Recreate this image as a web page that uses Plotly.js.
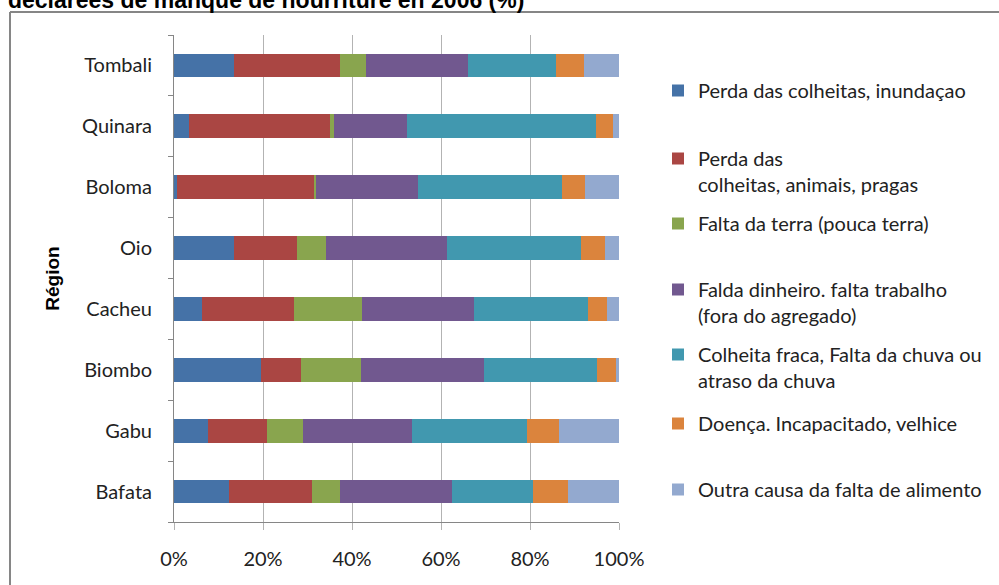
<!DOCTYPE html>
<html>
<head>
<meta charset="utf-8">
<script src="https://cdn.plot.ly/plotly-3.0.1.min.js"></script>
<style>html,body{margin:0;padding:0;background:#fff;overflow:hidden;}#chart{width:999px;height:585px;}</style>
</head>
<body>
<div id="chart"></div>
<script>
// Regions, bottom to top as drawn
var regions = ["Bafata", "Gabu", "Biombo", "Cacheu", "Oio", "Boloma", "Quinara", "Tombali"];

// Share of each declared cause (%), same order as regions
var inundacao = [12.4, 7.6, 19.6, 6.3, 13.4, 0.75, 3.4, 13.4];
var pragas    = [18.6, 13.2, 9.0, 20.7, 14.3, 30.6, 31.7, 24.0];
var terra     = [6.4, 8.2, 13.4, 15.3, 6.5, 0.45, 0.8, 5.8];
var dinheiro  = [25.1, 24.4, 27.6, 25.2, 27.2, 23.1, 16.5, 22.9];
var chuva     = [18.2, 26.0, 25.5, 25.6, 30.1, 32.3, 42.5, 19.7];
var doenca    = [7.8, 7.2, 4.3, 4.3, 5.4, 5.1, 3.7, 6.3];
var outra     = [11.5, 13.4, 0.6, 2.6, 3.1, 7.7, 1.4, 7.9];

var seriesNames = [
  "Perda das colheitas, inundaçao",
  "Perda das<br>colheitas, animais, pragas",
  "Falta da terra (pouca terra)",
  "Falda dinheiro. falta trabalho<br>(fora do agregado)",
  "Colheita fraca, Falta da chuva ou<br>atraso da chuva",
  "Doença. Incapacitado, velhice",
  "Outra causa da falta de alimento"
];
var seriesValues = [inundacao, pragas, terra, dinheiro, chuva, doenca, outra];
var colors = ["#4572A7", "#AA4643", "#89A54E", "#71588F", "#4198AF", "#DB843D", "#93A9CF"];

var FONT = "Lato, 'Open Sans', sans-serif";
var FS = 20;

// geometry helpers (plot area: left 174, top 35, width 445, height 487)
var L = 174, T = 35, W = 445, H = 487;
function px2x(p) { return (p - L) / W; }
function px2y(p) { return (T + H - p) / H; }

var legendTops = [90, 158, 223, 289, 354, 423, 489];

var traces = seriesValues.map(function (vals, i) {
  return {
    type: "bar",
    orientation: "h",
    y: regions,
    x: vals,
    name: seriesNames[i],
    marker: { color: colors[i], line: { width: 0 } },
    legend: i === 0 ? "legend" : "legend" + (i + 1),
    showlegend: true,
    hoverinfo: "x+y+name"
  };
});

var layout = {
  width: 999,
  height: 585,
  showlegend: true,
  margin: { l: L, r: 999 - L - W, t: T, b: 585 - T - H, pad: 0 },
  paper_bgcolor: "#ffffff",
  plot_bgcolor: "#ffffff",
  barmode: "stack",
  bargap: 0.61,
  title: {
    text: "déclarées de manque de nourriture en 2006 (%)",
    font: { family: "'Liberation Sans', Arial, sans-serif", size: 23, color: "#000", weight: "bold" },
    xref: "container", yref: "container",
    x: 0.008, xanchor: "left",
    y: 1.0, yanchor: "middle"
  },
  xaxis: {
    range: [0, 100],
    dtick: 20,
    tick0: 0,
    ticksuffix: "%",
    showgrid: true,
    gridcolor: "#b3b3b3",
    gridwidth: 1,
    showline: true,
    linecolor: "#868686",
    linewidth: 1,
    ticks: "outside",
    ticklen: 7,
    tickcolor: "#b3b3b3",
    ticklabelstandoff: 12,
    zeroline: false,
    tickfont: { family: FONT, size: FS, color: "#222" },
    fixedrange: true
  },
  yaxis: {
    type: "category",
    categoryorder: "array",
    categoryarray: regions,
    tickson: "boundaries",
    ticks: "outside",
    ticklen: 5,
    tickcolor: "#868686",
    showline: true,
    linecolor: "#868686",
    linewidth: 1,
    showgrid: false,
    ticklabelstandoff: 17,
    tickfont: { family: FONT, size: FS, color: "#222" },
    title: {
      text: "Région",
      font: { family: "'Liberation Sans', Arial, sans-serif", size: 19, color: "#000", weight: "bold" },
      standoff: 17
    },
    fixedrange: true
  },
  shapes: [
    { type: "line", xref: "paper", yref: "paper",
      x0: px2x(10), x1: px2x(1200), y0: px2y(12), y1: px2y(12),
      line: { color: "#868686", width: 2 }, layer: "below" },
    { type: "line", xref: "paper", yref: "paper",
      x0: px2x(10), x1: px2x(10), y0: px2y(12), y1: px2y(700),
      line: { color: "#868686", width: 2 }, layer: "below" }
  ]
};

legendTops.forEach(function (py, i) {
  var key = i === 0 ? "legend" : "legend" + (i + 1);
  layout[key] = {
    x: px2x(658), xanchor: "left",
    y: px2y(py - 19), yanchor: "top",
    bgcolor: "rgba(0,0,0,0)",
    borderwidth: 0,
    valign: "top",
    itemwidth: 30,
    font: { family: FONT, size: FS, color: "#222" }
  };
});

Plotly.newPlot("chart", traces, layout, { displayModeBar: false, staticPlot: true });
</script>
</body>
</html>
